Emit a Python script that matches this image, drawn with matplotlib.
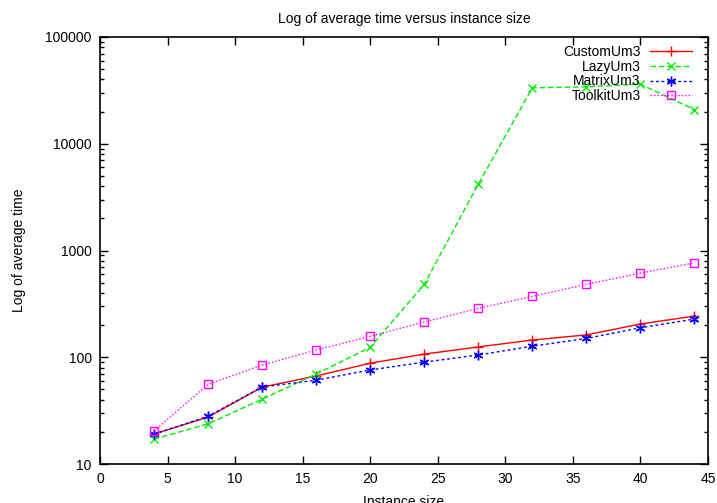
import matplotlib
matplotlib.use('Agg')
import matplotlib.pyplot as plt
from matplotlib.ticker import LogLocator, NullFormatter, FixedLocator

plt.rcParams['font.family'] = ['Liberation Sans', 'DejaVu Sans']
plt.rcParams['font.size'] = 10

# Instance sizes and average times
sizes = [4, 8, 12, 16, 20, 24, 28, 32, 36, 40, 44]
custom = [19.1, 27.5, 52.5, 66.7, 88, 107, 125, 145, 162, 205, 243]
lazy = [17.1, 23.8, 40.5, 69.6, 124, 482, 4190, 33400, 34100, 36100, 20900]
matrix = [19.0, 28.0, 52.6, 61, 76, 90, 105, 127, 150, 189, 228]
toolkit = [20.4, 55.7, 84.5, 117, 157, 214, 287, 372, 482, 614, 767]

series = [
    ('CustomUm3', custom, '#ff0000', '-', '+', 7),
    ('LazyUm3', lazy, '#00ee00', (0, (4, 2)), 'x', 6),
    ('MatrixUm3', matrix, '#0000ff', (0, (2, 2)), (6, 2, 0), 7),
    ('ToolkitUm3', toolkit, '#ff00ff', (0, (1, 1.5)), 's', 6),
]

fig = plt.figure(figsize=(7.17, 5.03), dpi=100)
ax = fig.add_axes([100 / 717, 1 - 464 / 503, 608 / 717, 427 / 503])

for label, vals, color, ls, marker, ms in series:
    mfc = 'none' if marker == 's' else color
    ax.plot(sizes, vals, linestyle=ls, color=color, marker=marker,
            markersize=ms, markerfacecolor=mfc, markeredgecolor=color,
            markeredgewidth=1.0, linewidth=1.0, label=label)

ax.set_yscale('log')
ax.set_xlim(0, 45)
ax.set_ylim(10, 100000)
ax.xaxis.set_major_locator(FixedLocator(range(0, 46, 5)))
ax.yaxis.set_minor_locator(LogLocator(base=10, subs=range(2, 10), numticks=20))
ax.yaxis.set_minor_formatter(NullFormatter())
ax.set_yticks([10, 100, 1000, 10000, 100000])
ax.set_yticklabels(['10', '100', '1000', '10000', '100000'])

ax.tick_params(which='both', direction='in', top=True, right=True,
               labelsize=10, width=1)
ax.tick_params(which='major', length=6, pad=6)
ax.tick_params(which='minor', length=3)
for sp in ax.spines.values():
    sp.set_linewidth(1.2)

ax.set_title('Log of average time versus instance size', fontsize=10, pad=10)
ax.set_xlabel('Instance size', fontsize=10, labelpad=6)
ax.set_ylabel('Log of average time', fontsize=10, labelpad=14)

ax.legend(loc='upper right', bbox_to_anchor=(592 / 608, 419 / 427),
          frameon=False, markerfirst=False, handlelength=3,
          labelspacing=0.05, borderaxespad=0, borderpad=0,
          fontsize=10, handletextpad=0.7)

fig.savefig('out.png', dpi=100)
